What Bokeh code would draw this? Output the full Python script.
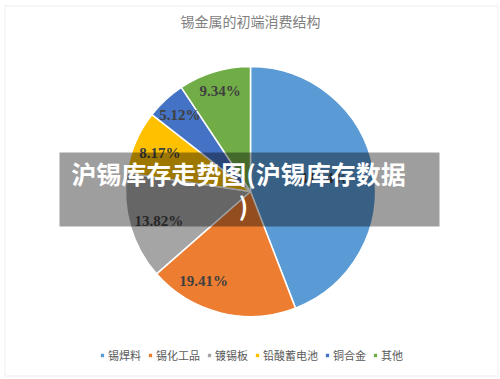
import math
from bokeh.plotting import figure
from bokeh.models import ColumnDataSource, BoxAnnotation, Label, Legend, LegendItem, Range1d
from bokeh.embed import file_html
from bokeh.resources import INLINE

# ---- data ----
categories = ["锡焊料", "锡化工品", "镀锡板", "铅酸蓄电池", "铜合金", "其他"]
shares = [44.14, 19.41, 13.82, 8.17, 5.12, 9.34]
colors = ["#5B9BD5", "#ED7D31", "#A5A5A5", "#FFC000", "#4472C4", "#70AD47"]
title_text = "锡金属的初端消费结构"
banner_text = ["沪锡库存走势图(沪锡库存数据", ")"]

W, H = 500, 379
p = figure(width=W, height=H, output_backend="svg", toolbar_location=None,
           x_range=Range1d(0, W), y_range=Range1d(0, H), min_border=0)
p.axis.visible = False
p.grid.visible = False
p.outline_line_color = None
p.background_fill_color = "white"

# outer chart frame
p.add_layout(BoxAnnotation(left=4.5, right=497.5, bottom=H - 375.5, top=H - 5.5,
                           fill_color=None, line_color="#D9D9D9", line_width=1.5,
                           level="underlay"))

cx, cy, R = 250, H - 191, 125
total = sum(shares)
starts, ends, mids = [], [], []
c = 0.0
for s in shares:
    a0 = math.pi / 2 - 2 * math.pi * c / total
    c += s
    a1 = math.pi / 2 - 2 * math.pi * c / total
    starts.append(a0); ends.append(a1); mids.append((a0 + a1) / 2)

src = ColumnDataSource(dict(cat=categories, share=shares, color=colors,
                            start=starts, end=ends,
                            x=[cx] * len(shares), y=[cy] * len(shares)))
r = p.wedge(x="x", y="y", radius=R, start_angle="start", end_angle="end",
            direction="clock", fill_color="color", line_color="white",
            line_width=1.5, source=src)

# label placement (layout tweaks)
label_r = [0.6, 0.81, 0.77, 0.79, 0.83, 0.84]
label_nudge = [0, -0.24, 0.03, 0, 0, 0]
lx, ly, lt = [], [], []
for i, s in enumerate(shares):
    a = mids[i] + label_nudge[i]
    lx.append(cx + label_r[i] * R * math.cos(a))
    ly.append(cy + label_r[i] * R * math.sin(a))
    lt.append(f"{s:.2f}%")
p.text(x=lx, y=ly, text=lt, text_align="center", text_baseline="middle",
       text_font={"value": "Liberation Serif"}, text_font_style="bold",
       text_font_size="15px", text_color="#404040")

# title
p.add_layout(Label(x=250, y=H - 20, text=title_text, text_align="center",
                   text_baseline="middle", text_font="Noto Sans CJK SC",
                   text_font_size="14px", text_color="#808080"))

# legend
items = [LegendItem(label=categories[i], renderers=[r], index=i) for i in range(len(categories))]
leg = Legend(items=items, orientation="horizontal", location=(99, H - 363),
             glyph_width=6, glyph_height=6, label_standoff=3, spacing=6,
             padding=0, margin=0, border_line_color=None, background_fill_alpha=0,
             label_text_font="Noto Sans CJK SC", label_text_font_size="11px",
             label_text_color="#595959", label_height=12)
p.add_layout(leg)

# overlay banner
p.add_layout(BoxAnnotation(left=59, right=439, bottom=H - 226, top=H - 152,
                           fill_color="black", fill_alpha=0.38, line_color=None))
p.add_layout(Label(x=238, y=H - 172, text=banner_text[0], text_align="center",
                   text_baseline="middle", text_font="Noto Sans CJK SC",
                   text_font_style="bold", text_font_size="25px", text_color="white"))
p.add_layout(Label(x=243, y=H - 204, text=banner_text[1], text_align="center",
                   text_baseline="middle", text_font="Noto Sans CJK SC",
                   text_font_style="bold", text_font_size="25px", text_color="white"))

open("out.html", "w").write(file_html(p, INLINE))
